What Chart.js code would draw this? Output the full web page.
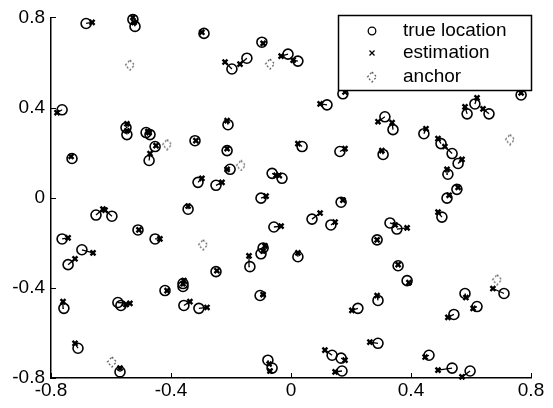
<!DOCTYPE html>
<html>
<head>
<meta charset="utf-8">
<script src="https://cdn.jsdelivr.net/npm/chart.js@4.4.1/dist/chart.umd.min.js"></script>
<style>
  html, body { margin: 0; padding: 0; background: #ffffff; }
  #wrap { width: 553px; height: 408px; }
</style>
</head>
<body>
<div id="wrap"><canvas id="locChart" width="553" height="408"></canvas></div>
<script>
// true node positions (circles)
const trueX = [-0.683, -0.527, -0.520, -0.763, -0.550, -0.547, -0.483, -0.470, -0.453, -0.473,
    -0.730, -0.290, -0.097, -0.197, -0.147, -0.010, 0.023, -0.210, -0.320, -0.213,
    -0.203, -0.310, -0.250, -0.063, -0.030, -0.100, 0.037, 0.173, 0.120, 0.313,
    0.340, 0.443, 0.163, 0.307, 0.767, 0.613, 0.587, 0.660, 0.500, 0.537,
    0.557, 0.523, 0.553, 0.520, -0.650, -0.597, -0.510, -0.453, -0.763, -0.697,
    -0.743, -0.420, -0.577, -0.567, -0.757, -0.710, -0.570, -0.343, -0.057, -0.093,
    -0.100, -0.137, 0.023, -0.250, -0.360, -0.360, -0.357, -0.307, -0.103, -0.077,
    -0.063, 0.167, 0.070, 0.133, 0.330, 0.353, 0.287, 0.357, 0.387, 0.290,
    0.223, 0.290, 0.137, 0.167, 0.170, 0.503, 0.580, 0.620, 0.543, 0.710,
    0.460, 0.537, 0.597];
const trueY = [0.773, 0.791, 0.760, 0.390, 0.311, 0.280, 0.289, 0.280, 0.227, 0.165,
    0.174, 0.729, 0.690, 0.571, 0.619, 0.637, 0.606, 0.324, 0.253, 0.209,
    0.126, 0.068, 0.055, 0.108, 0.086, -0.002, 0.227, 0.461, 0.412, 0.359,
    0.302, 0.284, 0.205, 0.192, 0.456, 0.416, 0.372, 0.372, 0.240, 0.196,
    0.152, 0.104, 0.037, -0.002, -0.077, -0.082, -0.143, -0.183, -0.183, -0.231,
    -0.297, -0.412, -0.465, -0.478, -0.491, -0.668, -0.773, -0.051, -0.130, -0.223,
    -0.249, -0.306, -0.262, -0.328, -0.381, -0.394, -0.478, -0.491, -0.434, -0.721,
    -0.756, -0.020, -0.095, -0.121, -0.112, -0.139, -0.187, -0.302, -0.368, -0.456,
    -0.491, -0.646, -0.699, -0.712, -0.769, -0.086, -0.425, -0.483, -0.518, -0.425,
    -0.699, -0.756, -0.769];

// estimated positions (crosses), same order
const estX = [-0.663, -0.527, -0.523, -0.780, -0.547, -0.547, -0.477, -0.473, -0.450, -0.470,
    -0.733, -0.297, -0.093, -0.220, -0.170, -0.033, 0.007, -0.213, -0.317, -0.213,
    -0.213, -0.297, -0.230, -0.050, -0.040, -0.083, 0.023, 0.180, 0.097, 0.290,
    0.337, 0.450, 0.180, 0.303, 0.767, 0.620, 0.580, 0.640, 0.490, 0.513,
    0.570, 0.520, 0.557, 0.527, -0.627, -0.620, -0.507, -0.437, -0.743, -0.660,
    -0.720, -0.413, -0.537, -0.550, -0.760, -0.720, -0.570, -0.343, -0.033, -0.087,
    -0.093, -0.140, 0.023, -0.247, -0.357, -0.360, -0.337, -0.280, -0.093, -0.073,
    -0.070, 0.173, 0.097, 0.147, 0.347, 0.387, 0.287, 0.357, 0.393, 0.287,
    0.203, 0.263, 0.113, 0.180, 0.147, 0.490, 0.583, 0.607, 0.523, 0.673,
    0.447, 0.490, 0.570];
const estY = [0.778, 0.800, 0.778, 0.377, 0.328, 0.297, 0.293, 0.289, 0.231, 0.196,
    0.183, 0.734, 0.685, 0.602, 0.593, 0.628, 0.610, 0.342, 0.253, 0.218,
    0.126, 0.086, 0.068, 0.099, 0.099, 0.007, 0.240, 0.469, 0.416, 0.337,
    0.333, 0.306, 0.218, 0.209, 0.465, 0.443, 0.403, 0.394, 0.262, 0.227,
    0.170, 0.126, 0.046, 0.011, -0.051, -0.055, -0.143, -0.183, -0.178, -0.245,
    -0.271, -0.412, -0.469, -0.474, -0.461, -0.646, -0.756, -0.037, -0.126, -0.214,
    -0.236, -0.258, -0.245, -0.324, -0.368, -0.381, -0.461, -0.487, -0.430, -0.738,
    -0.769, -0.011, -0.068, -0.108, -0.121, -0.134, -0.187, -0.297, -0.377, -0.434,
    -0.500, -0.641, -0.676, -0.721, -0.773, -0.064, -0.443, -0.491, -0.531, -0.403,
    -0.707, -0.765, -0.795];

// anchor nodes
const anchorX = [-0.537, -0.413, -0.070, -0.167, 0.730, -0.597, -0.293, 0.687];
const anchorY = [0.588, 0.236, 0.593, 0.143, 0.258, -0.729, -0.209, -0.364];

const xTicks = [-0.8, -0.4, 0, 0.4, 0.8];
const yTicks = [-0.8, -0.4, 0, 0.4, 0.8];
const seriesLabels = ['true location', 'estimation', 'anchor'];

// dotted diamond used for anchors
function makeAnchorIcon() {
    const c = document.createElement('canvas');
    c.width = 12; c.height = 12;
    const g = c.getContext('2d');
    g.strokeStyle = '#555';
    g.lineWidth = 1.2;
    g.setLineDash([2, 2]);
    g.beginPath();
    g.moveTo(6, 1); g.lineTo(10.5, 6); g.lineTo(6, 11); g.lineTo(1.5, 6); g.closePath();
    g.stroke();
    return c;
}
const anchorIcon = makeAnchorIcon();

const truePts = trueX.map((x, i) => ({ x: x, y: trueY[i] }));
const estPts = estX.map((x, i) => ({ x: x, y: estY[i] }));
const anchorPts = anchorX.map((x, i) => ({ x: x, y: anchorY[i] }));
const errPts = [];
trueX.forEach((x, i) => {
    errPts.push({ x: x, y: trueY[i] });
    errPts.push({ x: estX[i], y: estY[i] });
    errPts.push({ x: x, y: null });
});

const FONT = "'Liberation Sans', Arial, sans-serif";

// MATLAB style ticks pointing inwards
const innerTicks = {
    id: 'innerTicks',
    afterDraw(chart) {
        const ctx = chart.ctx, a = chart.chartArea;
        const xs = chart.scales.x, ys = chart.scales.y;
        ctx.save();
        ctx.strokeStyle = '#000';
        ctx.lineWidth = 1;
        xTicks.forEach(v => {
            const p = Math.round(xs.getPixelForValue(v)) + 0.5;
            ctx.beginPath(); ctx.moveTo(p, a.bottom); ctx.lineTo(p, a.bottom - 5); ctx.stroke();
        });
        yTicks.forEach(v => {
            const p = Math.round(ys.getPixelForValue(v)) + 0.5;
            ctx.beginPath(); ctx.moveTo(a.left, p); ctx.lineTo(a.left + 5, p); ctx.stroke();
        });
        ctx.restore();
    }
};

// boxed legend inside the plot, top right
const boxLegend = {
    id: 'boxLegend',
    afterDraw(chart) {
        const ctx = chart.ctx;
        const bx = 338, by = 15, bw = 193, bh = 75;
        ctx.save();
        ctx.fillStyle = '#fff';
        ctx.fillRect(bx, by, bw, bh);
        ctx.strokeStyle = '#000';
        ctx.lineWidth = 1.5;
        ctx.strokeRect(bx + 0.5, by + 0.5, bw, bh);
        const rows = [31, 53, 77];
        const mx = 372;
        ctx.lineWidth = 1.3;
        ctx.beginPath(); ctx.arc(mx, rows[0], 3.8, 0, Math.PI * 2); ctx.stroke();
        ctx.beginPath();
        ctx.moveTo(mx - 2.5, rows[1] - 2.5); ctx.lineTo(mx + 2.5, rows[1] + 2.5);
        ctx.moveTo(mx + 2.5, rows[1] - 2.5); ctx.lineTo(mx - 2.5, rows[1] + 2.5);
        ctx.stroke();
        ctx.drawImage(anchorIcon, mx - 6, rows[2] - 6);
        ctx.fillStyle = '#000';
        ctx.font = '19px ' + FONT;
        ctx.textBaseline = 'middle';
        ctx.textAlign = 'left';
        seriesLabels.forEach((t, i) => ctx.fillText(t, 403, rows[i]));
        ctx.restore();
    }
};

new Chart(document.getElementById('locChart').getContext('2d'), {
    type: 'scatter',
    data: {
        datasets: [
            {
                label: 'error',
                data: errPts,
                showLine: true,
                spanGaps: false,
                borderColor: '#000',
                borderWidth: 1.3,
                pointRadius: 0,
                clip: false
            },
            {
                label: seriesLabels[0],
                data: truePts,
                pointStyle: 'circle',
                pointRadius: 5,
                borderColor: '#000',
                backgroundColor: 'rgba(0,0,0,0)',
                pointBorderWidth: 1.6,
                clip: false
            },
            {
                label: seriesLabels[1],
                data: estPts,
                pointStyle: 'crossRot',
                pointRadius: 3.5,
                borderColor: '#000',
                pointBorderWidth: 2.4,
                clip: false
            },
            {
                label: seriesLabels[2],
                data: anchorPts,
                pointStyle: anchorIcon,
                clip: false
            }
        ]
    },
    options: {
        responsive: false,
        animation: false,
        layout: { padding: { top: 15, right: 22, left: 0, bottom: 0 } },
        plugins: {
            legend: { display: false },
            tooltip: { enabled: false }
        },
        scales: {
            x: {
                type: 'linear',
                min: -0.8,
                max: 0.8,
                afterBuildTicks: s => { s.ticks = xTicks.map(v => ({ value: v })); },
                afterFit: s => { s.height = 30; },
                grid: { display: false, drawTicks: false },
                border: { display: true, color: '#000', width: 1.5 },
                ticks: {
                    color: '#000',
                    padding: 1,
                    maxRotation: 0,
                    font: { family: FONT, size: 19 },
                    callback: v => String(v)
                }
            },
            y: {
                type: 'linear',
                min: -0.8,
                max: 0.8,
                afterBuildTicks: s => { s.ticks = yTicks.map(v => ({ value: v })); },
                afterFit: s => { s.width = 51; },
                grid: { display: false, drawTicks: false },
                border: { display: true, color: '#000', width: 1.5 },
                ticks: {
                    color: '#000',
                    padding: 6,
                    font: { family: FONT, size: 19 },
                    callback: v => String(v)
                }
            }
        }
    },
    plugins: [innerTicks, boxLegend]
});
</script>
</body>
</html>
